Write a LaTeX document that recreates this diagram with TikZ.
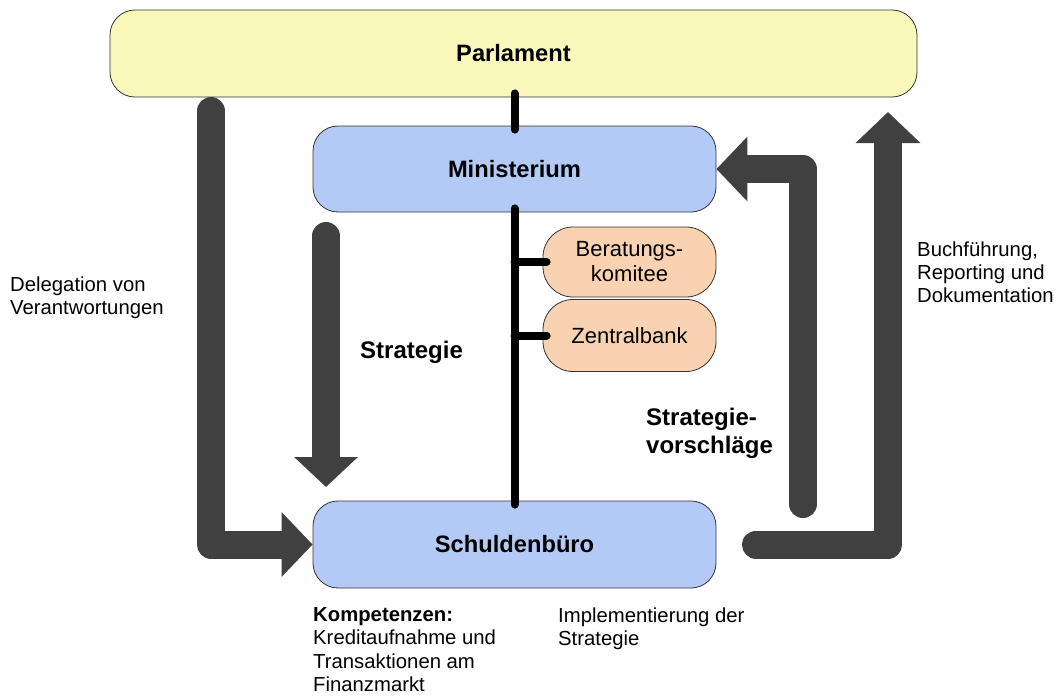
\documentclass[tikz,border=0pt]{standalone}
\usepackage{fontspec}
\setmainfont{Liberation Sans}
\usetikzlibrary{arrows.meta}
\definecolor{parlfill}{HTML}{FAF7BA}
\definecolor{minfill}{HTML}{B2CAF5}
\definecolor{orgfill}{HTML}{F9D2B1}
\definecolor{flowgray}{HTML}{404040}
\definecolor{edgegray}{HTML}{333333}
\begin{document}
\begin{tikzpicture}[x=1pt,y=-1pt,
  box/.style={draw=edgegray, line width=0.8pt, rounded corners=25pt, inner sep=0pt,
    font=\fontsize{23.7}{28}\selectfont\bfseries},
  sidebox/.style={draw=edgegray, line width=0.8pt, fill=orgfill, rounded corners=30pt,
    minimum width=173pt, inner sep=0pt, align=center, font=\fontsize{22}{25}\selectfont},
  txtlabel/.style={inner sep=0pt, align=left, anchor=north west, font=\fontsize{20.3}{23.2}\selectfont},
  boldlabel/.style={inner sep=0pt, align=left, anchor=north west, font=\fontsize{24}{28}\selectfont\bfseries},
  spine/.style={line width=8pt, line cap=round, black},
  flow/.style={line width=28pt, flowgray, line join=round, line cap=round,
    -{Triangle[length=31pt,width=63pt]}}
]
\useasboundingbox (0,0) rectangle (1057,697);

% boxes
\node[box, fill=parlfill, minimum width=807pt, minimum height=87pt] (parl) at (513.5,53.5) {Parlament};
\node[box, fill=minfill, minimum width=403pt, minimum height=86pt] (mini) at (514.5,169) {Ministerium};
\node[box, fill=minfill, minimum width=403pt, minimum height=87pt] (schuld) at (514.5,544.5) {Schuldenbüro};
\node[sidebox, minimum height=70pt] (berat) at (629.5,262) {Beratungs-\\komitee};
\node[sidebox, minimum height=72pt] (zentral) at (629.5,335.5) {Zentralbank};

% black organisational lines
\draw[spine] ([yshift=-4pt]mini.north) -- ([yshift=4pt]mini.north |- parl.south);
\draw[spine] ([yshift=4pt]mini.south) -- ([yshift=-4pt]schuld.north);
\draw[spine] ([xshift=4pt]berat.west) -- (berat.west -| mini.south);
\draw[spine] ([xshift=4pt]zentral.west) -- (zentral.west -| mini.south);

% thick flow arrows
\coordinate (dTop) at (211,111);
\draw[flow] (dTop) -- (dTop |- schuld.west) -- (schuld.west);

\coordinate (sTop) at (326,236);
\coordinate (sTip) at (326,487);
\draw[flow, -{Triangle[length=30pt,width=62pt]}] (sTop) -- (sTip);

\coordinate (vBot) at (803,504);
\draw[flow] (vBot) -- (vBot |- mini.east) -- (mini.east);

\coordinate (bStart) at (756,544.5);
\coordinate (bTip) at (888,112);
\draw[flow] (bStart) -- (bTip |- bStart) -- (bTip);

% labels
\node[txtlabel] (deleg) at (10,276.5) {Delegation von\\Verantwortungen};
\node[boldlabel, anchor=base west] (strat) at (360,358) {Strategie};
\node[boldlabel] (vorschl) at (646,408) {Strategie-\\vorschläge};
\node[txtlabel] (buch) at (917,241.2) {Buchführung,\\Reporting und\\Dokumentation};
\node[txtlabel] (kompet) at (313,607.5) {\textbf{Kompetenzen:}\\Kreditaufnahme und\\Transaktionen am\\Finanzmarkt};
\node[txtlabel] (implem) at (558,607.5) {Implementierung der\\Strategie};
\end{tikzpicture}
\end{document}
